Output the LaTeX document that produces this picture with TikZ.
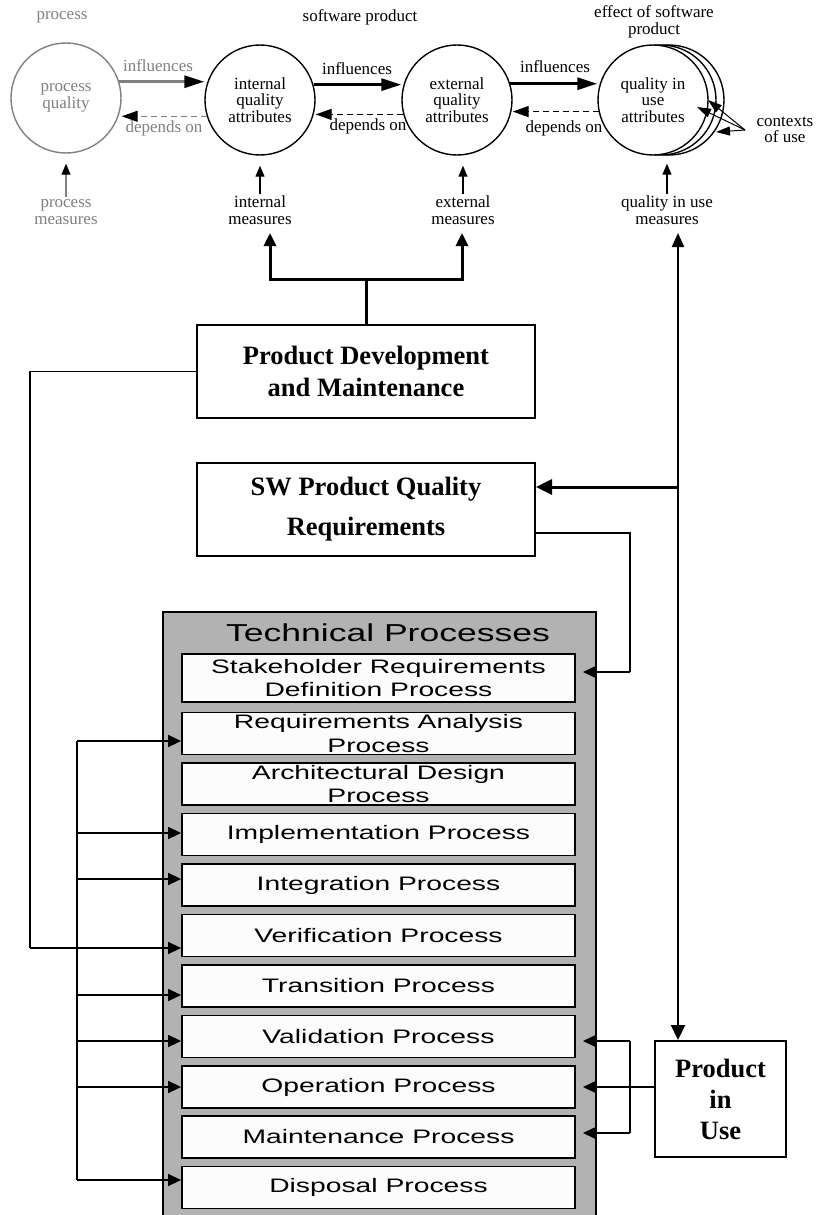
\documentclass[tikz,border=0pt]{standalone}
\usepackage{fontspec}
\setmainfont{Liberation Serif}
\newfontfamily\tpfont[FakeStretch=1.45]{Liberation Sans}
\usetikzlibrary{arrows.meta}

\definecolor{procgray}{RGB}{128,128,128}
\definecolor{panelgray}{RGB}{178,178,178}
\definecolor{itemwhite}{RGB}{252,252,252}

\begin{document}
\begin{tikzpicture}[x=1pt,y=-1pt,
  lbl/.style={align=center, inner sep=0pt, font=\fontsize{17}{16.5}\selectfont},
  glbl/.style={lbl, text=procgray},
  qcirc/.style={circle, draw, line width=1.4pt, minimum size=110pt, inner sep=0pt,
                fill=white, align=center, font=\fontsize{17}{16.5}\selectfont},
  infl/.style={line width=3pt, -{Triangle[length=20pt,width=12pt]}},
  dep/.style={line width=1.4pt, dash pattern=on 6pt off 4pt,
              -{Triangle[length=16pt,width=11pt,color=black]}},
  meas/.style={line width=1.3pt, -{Triangle[length=11pt,width=9pt,color=black]}},
  tree/.style={line width=3pt},
  treetip/.style={line width=3pt, -{Triangle[length=13pt,width=12pt]}},
  bbox/.style={draw, line width=2pt, fill=white, align=center, inner sep=0pt,
               font=\bfseries\fontsize{26.5}{32}\selectfont},
  item/.style={draw, line width=1.8pt, fill=itemwhite, minimum width=393pt,
               minimum height=42pt, inner sep=0pt, align=center,
               font=\tpfont\fontsize{19.5}{23.5}\selectfont},
  feed/.style={line width=1.6pt, -{Triangle[length=13pt,width=12pt]}},
  wire/.style={line width=1.6pt}
]
\useasboundingbox (0,0) rectangle (815,1215);

% ---------- quality model ----------
\node[glbl] (tproc) at (62,17) {process};
\node[lbl] (tsw) at (360,17) {software product};
\node[lbl] (teff) at (654,22) {effect of software\\product};

\node[qcirc, draw=procgray, text=procgray] (pq) at (66,98) {process\\quality};
\node[qcirc] (iq) at (260,100) {internal\\quality\\attributes};
\node[qcirc] (eq) at (457,100) {external\\quality\\attributes};
\node[qcirc] (qu3) at (669,100) {};
\node[qcirc] (qu2) at (661,100) {};
\node[qcirc] (qu) at (653,100) {quality in\\use\\attributes};

% influences / depends on
\draw[infl, draw=procgray, -{Triangle[length=20pt,width=12pt,color=black]}]
  (pq.17) -- (pq.17 -| iq.west);
\node[glbl] (inf1) at (158,66) {influences};
\draw[dep, draw=procgray] (iq.197) -- (iq.197 -| pq.east);
\node[glbl] (dep1) at (164,128) {depends on};

\draw[infl] (iq.16) -- (iq.16 -| eq.west);
\node[lbl] (inf2) at (357,69) {influences};
\draw[dep] (eq.195) -- (eq.195 -| iq.east);
\node[lbl] (dep2) at (368,126) {depends on};

\draw[infl] (eq.17) -- (eq.17 -| qu.west);
\node[lbl] (inf3) at (555,67) {influences};
\draw[dep] (qu.192) -- (qu.192 -| eq.east);
\node[lbl] (dep3) at (564,128) {depends on};

% contexts of use
\node[lbl] (ctxl) at (785,130) {contexts\\of use};
\coordinate (ctx) at (745,130);
\coordinate (c1) at (708,100);
\coordinate (c2) at (697,107);
\coordinate (c3) at (716,132);
\draw[line width=1pt, -{Triangle[length=14pt,width=9pt]}] (ctx) -- (c1);
\draw[line width=1pt, -{Triangle[length=14pt,width=9pt]}] (ctx) -- (c2);
\draw[line width=1pt, -{Triangle[length=14pt,width=9pt]}] (ctx) -- (c3);

% measures
\node[glbl] (pml) at (66,212) {process\\measures};
\node[lbl] (iml) at (260,210) {internal\\measures};
\node[lbl] (eml) at (463,210) {external\\measures};
\node[lbl] (qml) at (667,210) {quality in use\\measures};

\draw[meas, draw=procgray, shorten <=2pt, shorten >=10pt] (pml.north -| pq.south) -- (pq.south);
\draw[meas, shorten <=2pt, shorten >=10pt] (iml.north -| iq.south) -- (iq.south);
\draw[meas, shorten <=2pt, shorten >=10pt] (eml.north) -- (eml.north |- eq.south);
\draw[meas, shorten <=2pt, shorten >=8pt] (qml.north) -- (qml.north |- qu.south);

% ---------- development / requirements ----------
\node[bbox, minimum width=338pt, minimum height=93pt] (pd) at (366,371.5)
  {Product Development\\and Maintenance};
\node[bbox, minimum width=338pt, minimum height=93pt,
      font=\bfseries\fontsize{26.5}{40}\selectfont] (sw) at (366,509.5)
  {SW Product Quality\\Requirements};
\node[bbox, minimum width=131pt, minimum height=116pt,
      font=\bfseries\fontsize{26.5}{31}\selectfont] (piu) at (720.5,1099)
  {Product\\in\\Use};

\coordinate (bar) at (366,279);
\coordinate (tipA) at (270,233);
\coordinate (tipB) at (462,233);
\coordinate (tipC) at (678,233);
\draw[tree] (pd.north) -- (bar);
\draw[treetip] (bar) -| (tipA);
\draw[treetip] (bar) -| (tipB);

\draw[line width=2.2pt, {Triangle[length=14pt,width=12pt]}-{Triangle[length=15pt,width=14pt]}]
  (tipC) -- (tipC |- piu.north);
\coordinate (jn) at (678,487);
\draw[line width=3pt, -{Triangle[length=16pt,width=15pt]}] (jn) -- (jn -| sw.east);

% ---------- technical processes ----------
\fill[panelgray, draw=black, line width=2pt] (163,612) rectangle (596,1230);
\node[inner sep=0pt, font=\tpfont\fontsize{24.5}{28}\selectfont] (tpt) at (388,633)
  {Technical Processes};

\node[item, minimum height=48pt] (it1) at (378.5,678) {Stakeholder Requirements\\Definition Process};
\node[item] (it2) at (378.5,733.5) {Requirements Analysis\\Process};
\node[item] (it3) at (378.5,784) {Architectural Design\\Process};
\node[item] (it4) at (378.5,834.5) {Implementation Process};
\node[item] (it5) at (378.5,885) {Integration Process};
\node[item] (it6) at (378.5,935.5) {Verification Process};
\node[item] (it7) at (378.5,986) {Transition Process};
\node[item] (it8) at (378.5,1036.5) {Validation Process};
\node[item] (it9) at (378.5,1087) {Operation Process};
\node[item] (it10) at (378.5,1137) {Maintenance Process};
\node[item] (it11) at (378.5,1187.5) {Disposal Process};

% left feeds
\coordinate (lo) at (30,948);
\draw[wire] (pd.west) -| (lo);
\draw[feed] (lo) -- (lo -| it6.west);

\coordinate (b1) at (77,741);
\coordinate (b2) at (77,833);
\coordinate (b3) at (77,879);
\coordinate (b4) at (77,995);
\coordinate (b5) at (77,1041);
\coordinate (b6) at (77,1087);
\coordinate (b7) at (77,1180);
\draw[wire] (b1) -- (b7);
\draw[feed] (b1) -- (b1 -| it2.west);
\draw[feed] (b2) -- (b2 -| it4.west);
\draw[feed] (b3) -- (b3 -| it5.west);
\draw[feed] (b4) -- (b4 -| it7.west);
\draw[feed] (b5) -- (b5 -| it8.west);
\draw[feed] (b6) -- (b6 -| it9.west);
\draw[feed] (b7) -- (b7 -| it11.west);

% right feeds
\coordinate (swo) at (535,533);
\coordinate (r1) at (630,672);
\coordinate (r1t) at (583,672);
\draw[wire] (swo) -| (r1);
\draw[feed] (r1) -- (r1t);

\coordinate (pw) at (655,1087);
\coordinate (pwt) at (583,1087);
\coordinate (ra) at (630,1041);
\coordinate (rat) at (583,1041);
\coordinate (rb) at (630,1133);
\coordinate (rbt) at (583,1133);
\draw[feed] (pw) -- (pwt);
\draw[wire] (ra) -- (rb);
\draw[feed] (ra) -- (rat);
\draw[feed] (rb) -- (rbt);
\end{tikzpicture}
\end{document}
